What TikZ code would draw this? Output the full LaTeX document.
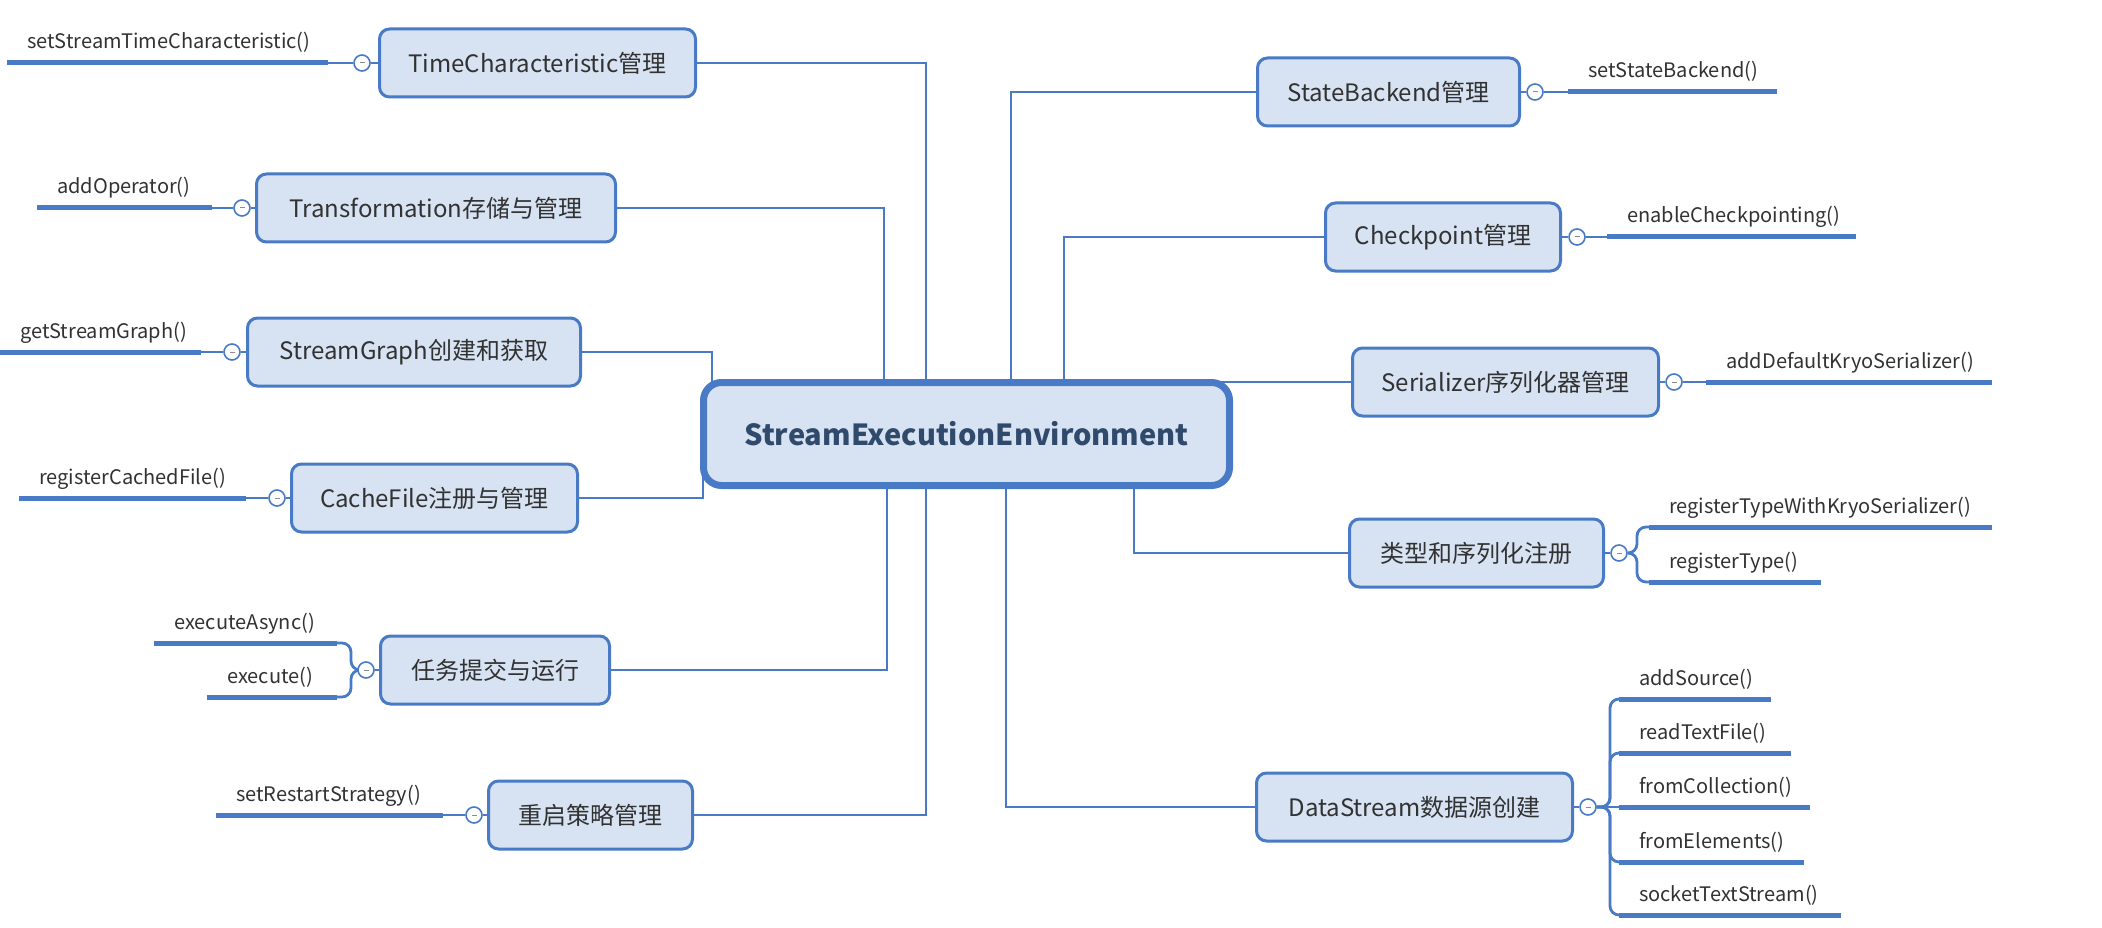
\documentclass[tikz,border=0pt]{standalone}
\usepackage{fontspec}
\setmainfont{Noto Sans CJK SC}
\usetikzlibrary{backgrounds}
\definecolor{bblue}{RGB}{72,122,198}
\definecolor{bfill}{RGB}{215,227,243}
\definecolor{tgray}{RGB}{50,50,50}
\definecolor{mtext}{RGB}{48,74,108}
\newcommand\leafline[5]{%
  \coordinate (#1a) at (#2,#4);
  \coordinate (#1b) at (#3,#4);
  \draw[leaf] (#1a) -- (#1b);
  \node[lbl] (#1) at ([xshift=20pt,yshift=14pt]#1a) {#5};}
\begin{document}
\begin{tikzpicture}[x=1pt,y=-1pt,
  sub/.style={draw=bblue, line width=3pt, fill=bfill, rounded corners=10pt,
    minimum height=68pt, inner sep=0pt, font=\fontsize{24}{28}\selectfont, text=tgray},
  root/.style={draw=bblue, line width=7pt, fill=bfill, rounded corners=18pt,
    inner sep=0pt, font=\fontsize{29}{34}\selectfont\bfseries, text=mtext},
  conn/.style={draw=bblue, line width=2.8pt},
  leaf/.style={draw=bblue, line width=5pt},
  tog/.style={circle, draw=bblue, line width=1.6pt, fill=white, minimum size=16pt, inner sep=0pt,
    path picture={\draw[black!45, line width=1pt] ([xshift=-2.5pt]path picture bounding box.center) -- ([xshift=2.5pt]path picture bounding box.center);}},
  lbl/.style={anchor=base west, font=\fontsize{20}{24}\selectfont, text=tgray, inner sep=0pt},
]
\useasboundingbox (0,0) rectangle (2102,928);
\begin{pgfonlayer}{background}
\fill[white] (0,0) rectangle (2102,928);
\end{pgfonlayer}

% main node
\node[root, minimum width=526pt, minimum height=103pt] (main) at (966.5,434) {StreamExecutionEnvironment};

% left branches
\node[sub, minimum width=316pt] (tc) at (537.5,63) {TimeCharacteristic管理};
\node[sub, minimum width=359pt] (tr) at (436,208) {Transformation存储与管理};
\node[sub, minimum width=333pt] (sg) at (414,352) {StreamGraph创建和获取};
\node[sub, minimum width=286pt] (cf) at (434.5,498) {CacheFile注册与管理};
\node[sub, minimum width=229pt] (rw) at (495,670) {任务提交与运行};
\node[sub, minimum width=204pt] (rs) at (590.5,815) {重启策略管理};

% right branches
\node[sub, minimum width=262pt] (sb) at (1388.5,92) {StateBackend管理};
\node[sub, minimum width=235pt] (cp) at (1443,237) {Checkpoint管理};
\node[sub, minimum width=306pt] (se) at (1505.5,382) {Serializer序列化器管理};
\node[sub, minimum width=254pt] (ty) at (1476.5,553) {类型和序列化注册};
\node[sub, minimum width=316pt] (ds) at (1414.5,807) {DataStream数据源创建};

% leaves
\leafline{L1}{7}{328}{63}{setStreamTimeCharacteristic()}
\leafline{L2}{37}{212}{208}{addOperator()}
\leafline{L3}{0}{201}{352}{getStreamGraph()}
\leafline{L4}{19}{246}{498}{registerCachedFile()}
\leafline{L5}{154}{337}{643}{executeAsync()}
\leafline{L6}{207}{337}{697}{execute()}
\leafline{L7}{216}{443}{815}{setRestartStrategy()}
\leafline{R1}{1568}{1777}{92}{setStateBackend()}
\leafline{R2}{1607}{1856}{237}{enableCheckpointing()}
\leafline{R3}{1706}{1992}{382}{addDefaultKryoSerializer()}
\leafline{R4}{1649}{1992}{527}{registerTypeWithKryoSerializer()}
\leafline{R5}{1649}{1821}{582}{registerType()}
\leafline{R6}{1619}{1771}{699}{addSource()}
\leafline{R7}{1619}{1791}{753}{readTextFile()}
\leafline{R8}{1619}{1810}{807}{fromCollection()}
\leafline{R9}{1619}{1804}{862}{fromElements()}
\leafline{R10}{1619}{1841}{915}{socketTextStream()}

% toggles
\node[tog] (t1) at (362,63) {};
\node[tog] (t2) at (242,208) {};
\node[tog] (t3) at (232,352) {};
\node[tog] (t4) at (277,498) {};
\node[tog] (t5) at (366,670) {};
\node[tog] (t6) at (474,815) {};
\node[tog] (t7) at (1535,92) {};
\node[tog] (t8) at (1577,237) {};
\node[tog] (t9) at (1674,382) {};
\node[tog] (t10) at (1619,553) {};
\node[tog] (t11) at (1588,807) {};

% anchor points on the main node
\coordinate (m1) at (926,434);
\coordinate (m2) at (884,434);
\coordinate (m3) at (712,434);
\coordinate (m4) at (703,434);
\coordinate (m5) at (887,434);
\coordinate (m7) at (1011,434);
\coordinate (m8) at (1064,434);
\coordinate (m9) at (1134,434);
\coordinate (m10) at (1006,434);
\coordinate (m11) at (1180,382);

\begin{pgfonlayer}{background}
  % main to branches
  \draw[conn] (tc.east) -| (m1);
  \draw[conn] (tr.east) -| (m2);
  \draw[conn] (sg.east) -| (m3);
  \draw[conn] (cf.east) -| (m4);
  \draw[conn] (rw.east) -| (m5);
  \draw[conn] (rs.east) -| (m1);
  \draw[conn] (sb.west) -| (m7);
  \draw[conn] (cp.west) -| (m8);
  \draw[conn] (se.west) -- (m11);
  \draw[conn] (ty.west) -| (m9);
  \draw[conn] (ds.west) -| (m10);
  % branches to toggles
  \draw[conn] (tc.west) -- (t1);
  \draw[conn] (tr.west) -- (t2);
  \draw[conn] (sg.west) -- (t3);
  \draw[conn] (cf.west) -- (t4);
  \draw[conn] (rw.west) -- (t5);
  \draw[conn] (rs.west) -- (t6);
  \draw[conn] (sb.east) -- (t7);
  \draw[conn] (cp.east) -- (t8);
  \draw[conn] (se.east) -- (t9);
  \draw[conn] (ty.east) -- (t10);
  \draw[conn] (ds.east) -- (t11);
  % toggles to leaves
  \draw[conn] (t1) -- (L1b);
  \draw[conn] (t2) -- (L2b);
  \draw[conn] (t3) -- (L3b);
  \draw[conn] (t4) -- (L4b);
  \draw[conn, rounded corners=9pt] (t5.west) -| ([xshift=14pt]L5b) -- (L5b);
  \draw[conn, rounded corners=9pt] (t5.west) -| ([xshift=14pt]L6b) -- (L6b);
  \draw[conn] (t6) -- (L7b);
  \draw[conn] (t7) -- (R1a);
  \draw[conn] (t8) -- (R2a);
  \draw[conn] (t9) -- (R3a);
  \draw[conn, rounded corners=9pt] (t10.east) -| ([xshift=-12pt]R4a) -- (R4a);
  \draw[conn, rounded corners=9pt] (t10.east) -| ([xshift=-12pt]R5a) -- (R5a);
  \draw[conn, rounded corners=9pt] (t11.east) -| ([xshift=-9pt]R6a) -- (R6a);
  \draw[conn, rounded corners=9pt] (t11.east) -| ([xshift=-9pt]R7a) -- (R7a);
  \draw[conn] (t11.east) -- (R8a);
  \draw[conn, rounded corners=9pt] (t11.east) -| ([xshift=-9pt]R9a) -- (R9a);
  \draw[conn, rounded corners=9pt] (t11.east) -| ([xshift=-9pt]R10a) -- (R10a);
\end{pgfonlayer}
\end{tikzpicture}
\end{document}
